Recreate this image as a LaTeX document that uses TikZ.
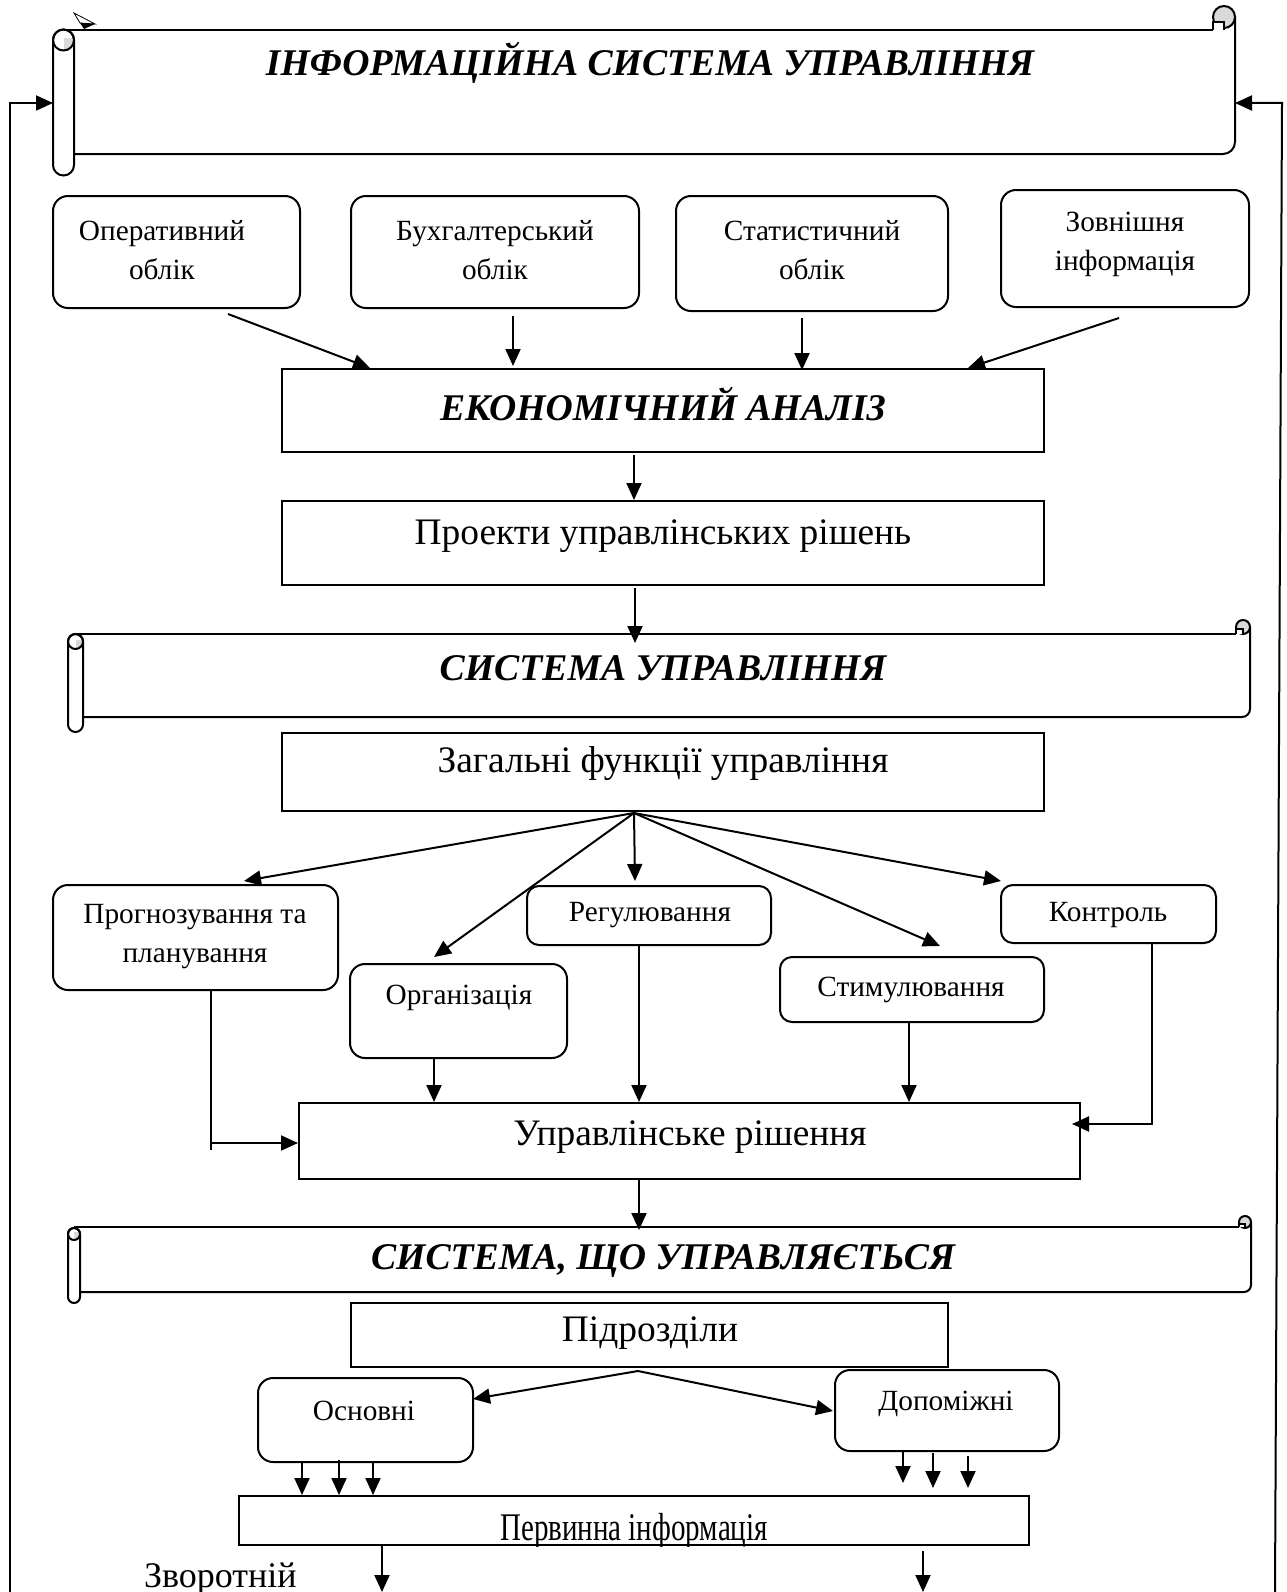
\documentclass[tikz,border=0pt]{standalone}
\usepackage{fontspec}
\setmainfont{Liberation Serif}
\usetikzlibrary{arrows.meta,calc}
\begin{document}
\begin{tikzpicture}[x=1pt,y=-1pt,line width=2pt,
  arr/.style={-{Triangle[length=17pt,width=15pt]}},
  rbox/.style={draw,rounded corners=15pt,inner sep=0pt},
  sbox/.style={draw,inner sep=0pt},
  lbl/.style={inner sep=0pt,align=center},
  bigtitle/.style={lbl,font=\fontsize{37.7}{40}\selectfont\bfseries\itshape},
  mid/.style={lbl,font=\fontsize{37.4}{40}\selectfont},
  small/.style={lbl,font=\fontsize{29.3}{39}\selectfont},
  roll/.style={fill=gray!30}]
\useasboundingbox (0,0) rectangle (1286,1592);

% ---------------- top scroll ----------------
\draw (63.5,30) -- (1213,30);
\draw[rounded corners=12pt] (1235,16) -- (1235,154) -- (74,154);
\draw[fill=white,rounded corners=10.5pt] (53,29.5) rectangle (74,175.5);
\begin{scope}
  \clip (63.5,40) circle[radius=10.5pt];
  \fill[roll] (63.5,38) rectangle (75,52);
\end{scope}
\draw (63.5,40) circle[radius=10.5pt];
\draw[fill=gray!30] (1224,17) circle[radius=11pt];
\draw[fill=white] (1213,30) -- (1213,22) -- (1224,22) -- (1224,30);
\draw[line width=0.8pt] (74,13) -- (95,24) -- (80,23) -- cycle;
\fill (80,23) -- (95,24) -- (84,29) -- cycle;
\node[bigtitle] (isu) at (650,63) {ІНФОРМАЦІЙНА СИСТЕМА УПРАВЛІННЯ};
\coordinate (isuL) at (53,103);
\coordinate (isuR) at (1235,103);

% ---------------- sources ----------------
\node[rbox,minimum width=247pt,minimum height=112pt] (op) at (176.5,252) {};
\node[rbox,minimum width=288pt,minimum height=112pt] (bu) at (495,252) {};
\node[rbox,minimum width=272pt,minimum height=115pt] (st) at (812,253.5) {};
\node[rbox,minimum width=248pt,minimum height=117pt] (zo) at (1125,248.5) {};
\node[small] (opt) at (162,250) {Оперативний\\облік};
\node[small] (but) at (495,250) {Бухгалтерський\\облік};
\node[small] (stt) at (812,250) {Статистичний\\облік};
\node[small] (zot) at (1125,244) {Зовнішня\\інформація};

% ---------------- analysis ----------------
\node[sbox,minimum width=762pt,minimum height=83pt] (ea) at (663,410.5) {};
\node[bigtitle] at (663,404) {ЕКОНОМІЧНИЙ АНАЛІЗ};
\draw[arr] ($(op.south west)+(176,5)$) -- ($(ea.north west)+(89,0)$);
\draw[arr] ($(bu.south west)+(163,7)$) -- ($(ea.north west)+(232,-2)$);
\draw[arr] ($(st.south west)+(127,6)$) -- ($(ea.north west)+(521,2)$);
\draw[arr] ($(zo.south west)+(119,10)$) -- ($(ea.north west)+(687,0)$);

\node[sbox,minimum width=762pt,minimum height=84pt] (pr) at (663,543) {};
\node[mid] at (663,536) {Проекти управлінських рішень};
\draw[arr] ($(ea.south west)+(353,2)$) -- ($(pr.north west)+(353,0)$);

% ---------------- control system scroll ----------------
\draw (75.5,634) -- (1236,634);
\draw[rounded corners=8pt] (1250,627) -- (1250,717) -- (83,717);
\draw[fill=white,rounded corners=7.5pt] (68,634) rectangle (83,732);
\begin{scope}
  \clip (75.5,641.5) circle[radius=7.5pt];
  \fill[roll] (75.5,640) rectangle (84,650);
\end{scope}
\draw (75.5,641.5) circle[radius=7.5pt];
\draw[fill=gray!30] (1243,627) circle[radius=7pt];
\draw[fill=white,line width=1.5pt] (1236,634) -- (1236,629) -- (1243,629) -- (1243,634);
\node[bigtitle] (su) at (663,668) {СИСТЕМА УПРАВЛІННЯ};
\coordinate (suTop) at (635,643);
\draw[arr] (pr.south -| suTop) ++(0,2) -- (suTop);

\node[sbox,minimum width=762pt,minimum height=78pt] (zf) at (663,772) {};
\node[mid] at (663,764) {Загальні функції управління};

% ---------------- functions ----------------
\node[rbox,minimum width=285pt,minimum height=105pt] (pl) at (195.5,937.5) {};
\node[small] at (195,937) {Прогнозування та\\планування};
\node[rbox,minimum width=244pt,minimum height=59pt,rounded corners=12pt] (re) at (649,915.5) {};
\node[small] at (650,915) {Регулювання};
\node[rbox,minimum width=215pt,minimum height=58pt,rounded corners=12pt] (ko) at (1108.5,914) {};
\node[small] at (1108,915) {Контроль};
\node[rbox,minimum width=217pt,minimum height=94pt] (or) at (458.5,1011) {};
\node[small] at (459,998) {Організація};
\node[rbox,minimum width=264pt,minimum height=65pt,rounded corners=12pt] (sm) at (912,989.5) {};
\node[small] at (911,990) {Стимулювання};

\coordinate (fan) at ($(zf.south west)+(353,1)$);
\draw[arr] (fan) -- (244,881);
\draw[arr] (fan) -- (434,957);
\draw[arr] (fan) -- (635,881);
\draw[arr] (fan) -- (940,946);
\draw[arr] (fan) -- (1001,881);

\node[sbox,minimum width=781pt,minimum height=76pt] (ur) at (689.5,1141) {};
\node[mid] at (690,1137) {Управлінське рішення};
\draw (pl.south -| 211,0) -- (211,1150);
\draw[arr] (211,1143) -- (ur.west |- 0,1143);
\draw[arr] (or.south -| 434,0) -- (ur.north -| 434,0);
\draw[arr] (re.south -| 639,0) -- (ur.north -| 639,0);
\draw[arr] (sm.south -| 909,0) -- (ur.north -| 909,0);
\draw[arr] (ko.south -| 1152,0) -- (1152,1124) -- (1072,1124);
\draw[arr] (ur.south -| 639,0) -- (639,1230);

% ---------------- controlled system scroll ----------------
\draw (74,1227) -- (1239,1227);
\draw[rounded corners=7pt] (1251,1222) -- (1251,1292) -- (80,1292);
\draw[fill=white,rounded corners=6pt] (68,1228) rectangle (80,1303);
\begin{scope}
  \clip (74,1234) circle[radius=6pt];
  \fill[roll] (74,1232) rectangle (81,1241);
\end{scope}
\draw (74,1234) circle[radius=6pt];
\draw[fill=gray!30] (1245,1222) circle[radius=6pt];
\draw[fill=white,line width=1.5pt] (1239,1227) -- (1239,1224) -- (1245,1224) -- (1245,1227);
\node[bigtitle] (sy) at (663,1261) {СИСТЕМА, ЩО УПРАВЛЯЄТЬСЯ};

\node[sbox,minimum width=597pt,minimum height=64pt] (pd) at (649.5,1335) {};
\node[mid] at (650,1333) {Підрозділи};

\node[rbox,minimum width=215pt,minimum height=84pt] (os) at (365.5,1420) {};
\node[small] at (364,1411) {Основні};
\node[rbox,minimum width=224pt,minimum height=81pt] (do) at (947,1410.5) {};
\node[small] at (946,1404) {Допоміжні};
\coordinate (pdfan) at ($(pd.south west)+(288,3)$);
\draw[arr] (pdfan) -- (473,1399);
\draw[arr] (pdfan) -- (833,1411);

\node[sbox,minimum width=790pt,minimum height=49pt] (pi) at (634,1520.5) {};
\begin{scope}
  \clip (pi.south west) rectangle (pi.north east);
  \node[lbl,anchor=base,font=\fontsize{29}{30}\selectfont] at (634,1540) {\scalebox{1}[1.35]{Первинна інформація}};
\end{scope}
\draw[arr] (os.south -| 302,0) -- (pi.north -| 302,0);
\draw[arr] (339,1460) -- (pi.north -| 339,0);
\draw[arr] (os.south -| 373,0) -- (pi.north -| 373,0);
\draw[arr] (do.south -| 903,0) -- (903,1483);
\draw[arr] (933,1453) -- (933,1488);
\draw[arr] (968,1456) -- (968,1488);
\coordinate (fbL) at (382,1592);
\coordinate (fbR) at (923,1592);
\draw[arr] (pi.south -| fbL) -- (fbL);
\draw[arr] (923,1551) -- (fbR);

\node[lbl,anchor=base west,font=\fontsize{36}{40}\selectfont] (zv) at (143,1587) {Зворотній};

% ---------------- feedback lines ----------------
\coordinate (bL) at (10,1592);
\coordinate (bR) at (1275,1592);
\draw[arr] (bL) -- (10,103) -- (isuL);
\draw[arr] (bR) -- (1282,103) -- (isuR);
\end{tikzpicture}
\end{document}
